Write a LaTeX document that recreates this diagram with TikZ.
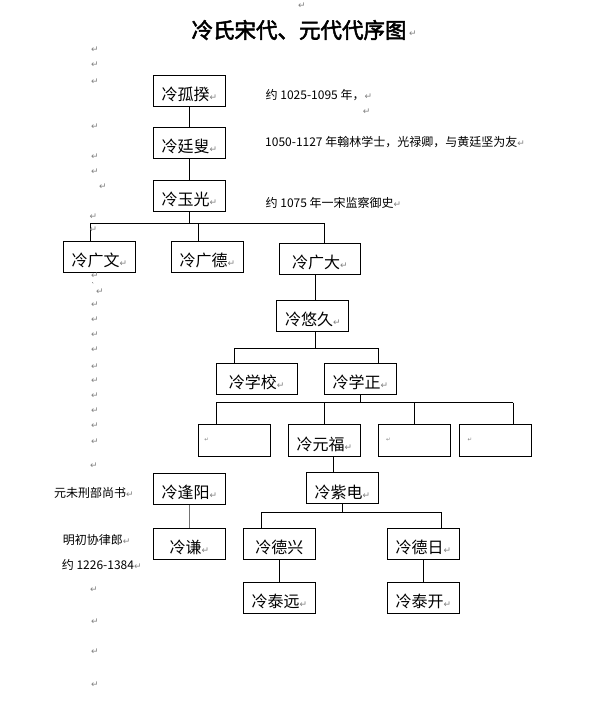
\documentclass[tikz,border=0pt]{standalone}
\usepackage{fontspec}
\newfontfamily\cjk{Noto Sans CJK SC}
\newfontfamily\cjkbold{Noto Sans CJK SC}[FakeBold=2.5]
\newfontfamily\dejavu{DejaVu Sans}
\definecolor{pmgray}{RGB}{128,128,128}
\newcommand\parmark{{\dejavu\fontsize{9}{9}\selectfont\textcolor{pmgray}{↵}}}
\tikzset{
  bx/.style={draw, line width=1pt, minimum width=72pt, minimum height=31pt, inner sep=0pt,
    text height=20pt, text depth=0pt, font=\cjk\fontsize{16}{16}\selectfont},
  ln/.style={line width=0.9pt},
  pmk/.style={inner sep=0pt, font=\dejavu\fontsize{9}{9}\selectfont, text=pmgray},
  note/.style={anchor=base west, inner sep=0pt, font=\cjk\fontsize{12}{12}\selectfont},
}
\begin{document}
\begin{tikzpicture}[x=1pt,y=-1pt]
\useasboundingbox (0,0) rectangle (596,701);

% title
\node[inner sep=0pt, font=\cjkbold\fontsize{21.5}{22}\selectfont] (title) at (299,30) {冷氏宋代、元代代序图};
\node[pmk] (tpm) at (413,34) {↵};
\node[pmk] (tpm0) at (302,6) {↵};

% boxes
\node[bx] (gukui) at (189.5,90.5) {冷孤揆\parmark};
\node[bx] (tingsou) at (189.5,142.5) {冷廷叟\parmark};
\node[bx] (yuguang) at (189.5,195.5) {冷玉光\parmark};
\node[bx] (gwen) at (99.5,256.7) {冷广文\parmark};
\node[bx] (gde) at (207.5,256.7) {冷广德\parmark};
\node[bx, minimum width=81pt] (gda) at (320,258.8) {冷广大\parmark};
\node[bx] (youjiu) at (312.8,315.5) {冷悠久\parmark};
\node[bx, minimum width=81pt] (xuexiao) at (256.7,378.8) {冷学校\parmark};
\node[bx] (xuezheng) at (360.5,378.8) {冷学正\parmark};
\node[bx, minimum height=31.7pt] (e1) at (234.5,440.8) {};
\node[bx, minimum height=31.7pt] (yuanfu) at (324.5,440.8) {冷元福\parmark};
\node[bx, minimum height=31.7pt] (e3) at (414.2,440.8) {};
\node[bx, minimum height=31.7pt] (e4) at (495,440.8) {};
\node[bx] (fengyang) at (189.3,488.8) {冷逢阳\parmark};
\node[bx] (zidian) at (342.5,488) {冷紫电\parmark};
\node[bx] (qian) at (189.3,543.8) {冷谦\parmark};
\node[bx] (dexing) at (279.3,543.8) {冷德兴};
\node[bx] (deri) at (423.3,543.8) {冷德日\parmark};
\node[bx] (taiyuan) at (279.3,597.8) {冷泰远\parmark};
\node[bx] (taikai) at (423.3,597.8) {冷泰开\parmark};

% marks inside empty boxes
\node[pmk, font=\dejavu\fontsize{5.5}{5.5}\selectfont] (e1m) at (206.7,440) {↵};
\node[pmk, font=\dejavu\fontsize{5.5}{5.5}\selectfont] (e3m) at (388.3,440) {↵};
\node[pmk, font=\dejavu\fontsize{5.5}{5.5}\selectfont] (e4m) at (470,440) {↵};

% connectors
\draw[ln] (gukui) -- (tingsou);
\draw[ln] (tingsou) -- (yuguang);
\coordinate (b2l) at (90,223.3);
\coordinate (b2r) at (324.3,223.3);
\coordinate (d2) at (198.3,223.3);
\draw[ln] (yuguang.south) -- (yuguang.south |- b2l);
\draw[ln] (b2l) -- (b2r);
\draw[ln] (b2l) -- (gwen.north -| b2l);
\draw[ln] (d2) -- (gde.north -| d2);
\draw[ln] (b2r) -- (gda.north -| b2r);

\coordinate (s3) at (315.7,300);
\coordinate (b3l) at (234.3,348.3);
\coordinate (b3r) at (378.3,348.3);
\draw[ln] (gda.south -| s3) -- (youjiu.north -| s3);
\draw[ln] (youjiu.south -| s3) -- (s3 |- b3l);
\draw[ln] (b3l) -- (b3r);
\draw[ln] (b3l) -- (xuexiao.north -| b3l);
\draw[ln] (b3r) -- (xuezheng.north -| b3r);

\coordinate (b4l) at (216,402.7);
\coordinate (b4b) at (324.3,402.7);
\coordinate (b4c) at (414.3,402.7);
\coordinate (b4r) at (513.3,402.7);
\draw[ln] (xuezheng.south) -- (xuezheng.south |- b4l);
\draw[ln] (b4l) -- (b4r);
\draw[ln] (b4l) -- (e1.north -| b4l);
\draw[ln] (b4b) -- (yuanfu.north -| b4b);
\draw[ln] (b4c) -- (e3.north -| b4c);
\draw[ln] (b4r) -- (e4.north -| b4r);

\coordinate (s5) at (333.3,456.7);
\draw[ln] (yuanfu.south -| s5) -- (zidian.north -| s5);
\coordinate (b5l) at (261,512.3);
\coordinate (b5r) at (441,512.3);
\draw[ln] (zidian.south) -- (zidian.south |- b5l);
\draw[ln] (b5l) -- (b5r);
\draw[ln] (b5l) -- (dexing.north -| b5l);
\draw[ln] (b5r) -- (deri.north -| b5r);
\draw[ln] (dexing) -- (taiyuan);
\draw[ln] (deri) -- (taikai);
\draw[line width=1.6pt, draw=gray!90!black] (fengyang) -- (qian);

% notes
\node[note] (n1) at (265.5,99.5) {约 1025-1095 年，\parmark};
\node[pmk] (n1m) at (366.7,111.7) {↵};
\node[note] (n2) at (265,146) {1050-1127 年翰林学士，光禄卿，与黄廷坚为友\parmark};
\node[note] (n3) at (265.5,207) {约 1075 年一宋监察御史\parmark};
\node[note] (n4) at (54,497) {元未刑部尚书\parmark};
\node[note] (n5) at (62.7,544.6) {明初协律郎\parmark};
\node[note] (n6) at (61.7,569.6) {约 1226-1384\parmark};

% left column paragraph marks
\foreach \i/\x/\y in {1/95/50, 2/95/65, 3/95/81.7, 4/95/126.7, 5/95/156.7, 6/95/171.7,
  7/103/186.7, 8/93.3/216.7, 9/93.3/230, 10/95/276, 11/100/291.7, 12/95/305, 13/95/320,
  14/95/335, 15/95/350, 16/95/366.7, 17/95/380.7, 18/95/396, 19/95/410.7, 20/95/426,
  21/95/441.7, 22/94/466, 23/94/590, 24/95/621.7, 25/95/651.7, 26/95/685}
  \node[pmk] (lm\i) at (\x,\y) {↵};
\node[inner sep=0pt, font=\dejavu\fontsize{6}{6}\selectfont] (tick) at (93,285) {`};

\end{tikzpicture}
\end{document}
